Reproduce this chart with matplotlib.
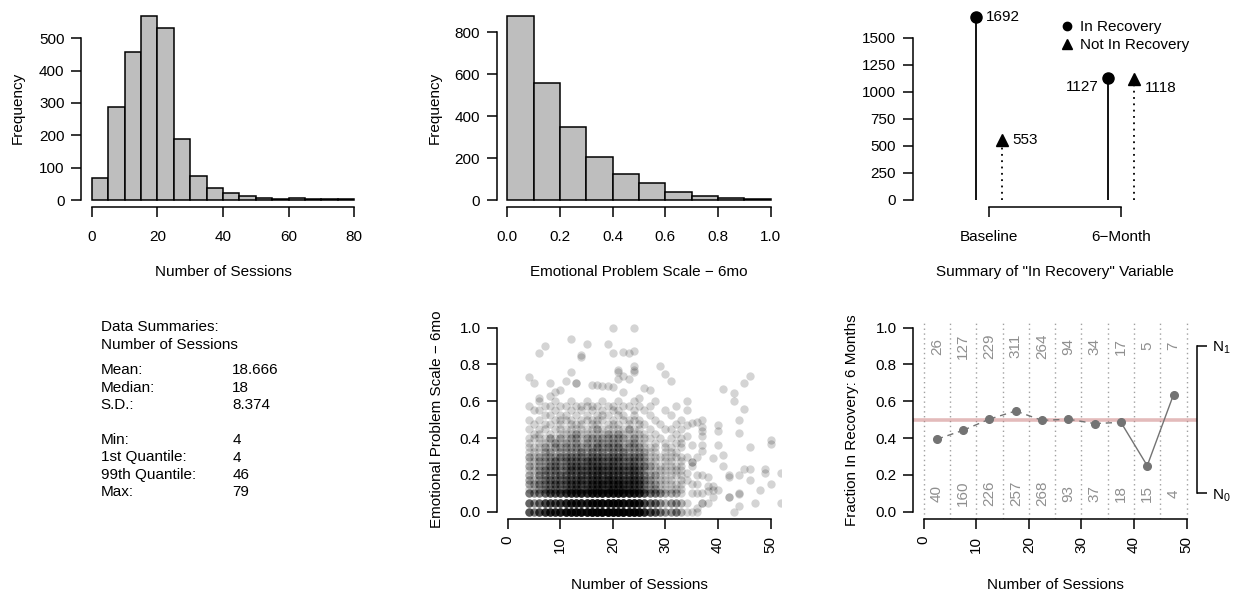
import matplotlib
matplotlib.use("Agg")
import matplotlib.pyplot as plt
from matplotlib.lines import Line2D

plt.rcParams['font.family'] = ['Liberation Sans', 'DejaVu Sans']
plt.rcParams['mathtext.fontset'] = 'custom'
plt.rcParams['mathtext.rm'] = 'Liberation Sans'
plt.rcParams['mathtext.it'] = 'Liberation Sans:italic'

# ---------------- data ----------------
sess_edges = list(range(0, 85, 5))
sess_counts = [67, 289, 457, 570, 533, 189, 73, 36, 22, 12, 6, 4, 6, 2, 2, 2]

emo_edges = [0.0, 0.1, 0.2, 0.3, 0.4, 0.5, 0.6, 0.7, 0.8, 0.9, 1.0]
emo_counts = [879, 556, 347, 207, 122, 81, 37, 21, 11, 5]

rec_groups = ['Baseline', '6\u2212Month']
rec_in = [1692, 1127]
rec_not = [553, 1118]

summary_title = ['Data Summaries:', 'Number of Sessions']
summary_labels = ['Mean:', 'Median:', 'S.D.:', '', 'Min:', '1st Quantile:', '99th Quantile:', 'Max:']
summary_values = ['18.666', '18', '8.374', '', '4', '4', '46', '79']

# scatter: number of points per (sessions, emotional score) cell, base-36 digits,
# columns are sessions 4..33 (grouped 4-5 | 6-10 | 11-15 | 16-20 | 21-25 | 26-30 | 31-33)
core_x = list(range(4, 34))
core_y = [0.600, 0.575, 0.550, 0.525, 0.500, 0.475, 0.450, 0.425, 0.400, 0.375, 0.350, 0.325,
          0.300, 0.275, 0.250, 0.225, 0.200, 0.175, 0.150, 0.125, 0.100, 0.050, 0.000]
core_counts = [
    "00 | 10010 | 01001 | 00100 | 10010 | 00100 | 000",
    "10 | 01101 | 10111 | 11011 | 01101 | 01000 | 010",
    "01 | 10010 | 01010 | 10101 | 10010 | 10001 | 000",
    "00 | 01101 | 10101 | 01110 | 11010 | 01000 | 100",
    "10 | 10011 | 11011 | 11101 | 01111 | 00100 | 001",
    "01 | 01101 | 01110 | 11011 | 10101 | 10010 | 010",
    "10 | 11011 | 11111 | 12111 | 11211 | 01001 | 101",
    "01 | 10101 | 11211 | 11121 | 21111 | 10100 | 010",
    "11 | 11212 | 12212 | 22222 | 22121 | 11010 | 101",
    "10 | 11121 | 21212 | 12222 | 21221 | 10101 | 011",
    "11 | 12122 | 22222 | 23232 | 32222 | 11101 | 101",
    "11 | 12212 | 22232 | 32323 | 23222 | 21101 | 110",
    "21 | 22223 | 33333 | 34343 | 43333 | 21111 | 111",
    "11 | 22232 | 33334 | 43434 | 33332 | 21101 | 101",
    "21 | 22333 | 34444 | 45454 | 44443 | 32111 | 111",
    "11 | 23232 | 34344 | 44544 | 44443 | 21111 | 111",
    "21 | 33334 | 44455 | 56565 | 55554 | 32211 | 111",
    "21 | 23333 | 44454 | 55565 | 55554 | 32111 | 101",
    "22 | 33344 | 45555 | 66766 | 76655 | 32211 | 111",
    "11 | 23333 | 44545 | 56566 | 56554 | 32211 | 111",
    "43 | 45667 | 899a9 | bbccb | cbba9 | 64432 | 221",
    "53 | 57778 | abbbb | ddeee | edddb | 75532 | 332",
    "64 | 79aab | eefff | iiiji | iihhf | a7643 | 342",
]
sparse_x = [20, 24, 12, 15, 7, 19, 6, 20, 22, 23, 24, 14, 14, 4, 5, 8, 11, 12, 13, 13,
            16, 17, 18, 19, 20, 21, 22, 23, 21, 21, 24, 24, 24, 29, 30, 31, 26, 27, 6, 9,
            8, 10, 22, 25,
            34, 34, 34, 34, 34, 34, 34, 34, 34,
            35, 35, 35, 35, 35, 35, 35, 35,
            36, 36, 36, 36, 36, 36, 36,
            37, 37, 37, 37, 37, 37, 37, 37, 37, 37,
            38, 38, 38, 38, 39, 39, 39, 39, 40, 40, 40, 40,
            41, 41, 41, 42, 42, 42, 42, 43, 43, 43,
            44, 44, 44, 44, 44, 44, 45, 45, 45, 46, 46, 46, 46,
            47, 48, 49, 49, 50, 50, 50, 52, 52]
sparse_y = [1.0, 1.0, 0.94, 0.91, 0.9, 0.91, 0.86, 0.86, 0.87, 0.86, 0.875, 0.85, 0.84, 0.73, 0.70, 0.70, 0.71, 0.76, 0.70, 0.70,
            0.69, 0.69, 0.685, 0.685, 0.68, 0.72, 0.74, 0.72, 0.77, 0.76, 0.76, 0.77, 0.79, 0.79, 0.75, 0.71, 0.67, 0.66, 0.62, 0.65,
            0.63, 0.66, 0.65, 0.62,
            0.60, 0.55, 0.47, 0.41, 0.30, 0.21, 0.17, 0.05, 0.00,
            0.48, 0.36, 0.27, 0.25, 0.27, 0.15, 0.10, 0.00,
            0.49, 0.30, 0.20, 0.15, 0.02, 0.00, 0.10,
            0.50, 0.46, 0.44, 0.41, 0.364, 0.33, 0.20, 0.10, 0.05, 0.05,
            0.19, 0.14, 0.11, 0.05, 0.29, 0.14, 0.12, 0.08, 0.47, 0.44, 0.36, 0.12,
            0.665, 0.31, 0.25, 0.20, 0.19, 0.08, 0.08, 0.643, 0.60, 0.00,
            0.50, 0.43, 0.20, 0.10, 0.096, 0.03, 0.70, 0.56, 0.23, 0.74, 0.35, 0.23, 0.17,
            0.05, 0.12, 0.21, 0.23, 0.39, 0.37, 0.15, 0.21, 0.05]

frac_edges = list(range(0, 55, 5))
n1 = [26, 127, 229, 311, 264, 94, 34, 17, 5, 7]
n0 = [40, 160, 226, 257, 268, 93, 37, 18, 15, 4]

# ---------------- layout helpers ----------------
W, H = 1243, 592
fig = plt.figure(figsize=(W / 100, H / 100), dpi=100)
FS = 11
LW = 1.1


def axes_px(l, t, r, b):
    return fig.add_axes([l / W, 1 - b / H, (r - l) / W, (b - t) / H])


def style(ax, xb, yb, xpad=9, ypad=5):
    for s in ['top', 'right']:
        ax.spines[s].set_visible(False)
    for s in ['left', 'bottom']:
        ax.spines[s].set_linewidth(LW)
    ax.spines['left'].set_bounds(*yb)
    ax.spines['bottom'].set_bounds(*xb)
    ax.tick_params(axis='both', direction='out', length=7, width=LW, labelsize=FS, color='k')
    ax.tick_params(axis='x', pad=xpad)
    ax.tick_params(axis='y', pad=ypad)


def label_px(ax, box, xlabel=None, xl_y=None, ylabel=None, yl_x=None):
    l, t, r, b = box
    if xlabel is not None:
        ax.set_xlabel(xlabel, fontsize=FS)
        ax.xaxis.set_label_coords(0.5, (b - xl_y) / (b - t))
        ax.xaxis.label.set_va('center')
    if ylabel is not None:
        ax.set_ylabel(ylabel, fontsize=FS)
        ax.yaxis.set_label_coords((yl_x - l) / (r - l), 0.5)
        ax.yaxis.label.set_va('center')


# ---------------- panel 1: histogram sessions ----------------
box1 = (81.2, 8.3, 364.8, 207.4)
ax1 = axes_px(*box1)
ax1.bar(sess_edges[:-1], sess_counts, width=5, align='edge', color='#bebebe', edgecolor='black', linewidth=LW)
ax1.set_xlim(-3.2, 83.2)
ax1.set_ylim(-0.04 * max(sess_counts), 1.04 * max(sess_counts))
ax1.set_xticks(range(0, 81, 20))
ax1.set_yticks(range(0, 501, 100))
style(ax1, (0, 80), (0, 500))
label_px(ax1, box1, 'Number of Sessions', 272, 'Frequency', 18)

# ---------------- panel 2: histogram emotional ----------------
box2 = (496.8, 8.4, 781.2, 207.4)
ax2 = axes_px(*box2)
ax2.bar(emo_edges[:-1], emo_counts, width=0.1, align='edge', color='#bebebe', edgecolor='black', linewidth=LW)
ax2.set_xlim(-0.04, 1.04)
ax2.set_ylim(-0.04 * max(emo_counts), 1.04 * max(emo_counts))
ax2.set_xticks([0, 0.2, 0.4, 0.6, 0.8, 1.0])
ax2.set_xticklabels(['%.1f' % v for v in [0, 0.2, 0.4, 0.6, 0.8, 1.0]])
ax2.set_yticks(range(0, 801, 200))
style(ax2, (0, 1), (0, 800))
label_px(ax2, box2, 'Emotional Problem Scale \u2212 6mo', 272, 'Frequency', 435)

# ---------------- panel 3: recovery lollipop ----------------
box3 = (912.7, 9.6, 1197.6, 207.3)
ax3 = axes_px(*box3)
gx = [i + 1 for i in range(len(rec_groups))]
x_in = [g - 0.1 for g in gx]
x_not = [g + 0.1 for g in gx]
ax3.vlines(x_in, 0, rec_in, colors='black', linewidth=1.3)
ax3.vlines(x_not, 0, rec_not, colors='black', linewidth=1.3, linestyles=(0, (1, 2.5)))
ax3.plot(x_in, rec_in, 'o', color='black', ms=8)
ax3.plot(x_not, rec_not, '^', color='black', ms=9)
ymax3 = max(rec_in + rec_not)
ax3.set_xlim(0.42, 2.58)
ax3.set_ylim(-0.04 * ymax3, 1.04 * ymax3)
ax3.set_yticks(range(0, 1501, 250))
ax3.set_xticks(gx)
ax3.set_xticklabels(rec_groups)
style(ax3, (1, 2), (0, 1500))
ax3.annotate(str(rec_in[0]), (x_in[0], rec_in[0]), xytext=(7, 0), textcoords='offset points',
             ha='left', va='center', fontsize=FS)
ax3.annotate(str(rec_not[0]), (x_not[0], rec_not[0]), xytext=(7, 0), textcoords='offset points',
             ha='left', va='center', fontsize=FS)
ax3.annotate(str(rec_in[1]), (x_in[1], rec_in[1]), xytext=(-7, -6.5), textcoords='offset points',
             ha='right', va='center', fontsize=FS)
ax3.annotate(str(rec_not[1]), (x_not[1], rec_not[1]), xytext=(7.5, -6.5), textcoords='offset points',
             ha='left', va='center', fontsize=FS)
handles = [Line2D([], [], marker='o', ls='none', color='black', ms=6),
           Line2D([], [], marker='^', ls='none', color='black', ms=6.5)]
fig.legend(handles, ['In Recovery', 'Not In Recovery'], loc='upper left',
           bbox_to_anchor=(1060.7 / W, 1 - 20.5 / H), frameon=False, fontsize=FS,
           handlelength=0.8, handletextpad=0.48, labelspacing=0.25, borderpad=0, borderaxespad=0)
label_px(ax3, box3, 'Summary of "In Recovery" Variable', 271.7)

# ---------------- panel 4: text summary ----------------
ty = 326.7
for t in summary_title:
    fig.text(100.7 / W, 1 - ty / H, t, ha='left', va='center', fontsize=FS)
    ty += 18.3
ty = 370
for lab, val in zip(summary_labels, summary_values):
    if lab:
        fig.text(100.7 / W, 1 - ty / H, lab, ha='left', va='center', fontsize=FS)
        fig.text(232.3 / W, 1 - ty / H, val, ha='left', va='center', fontsize=FS)
    ty += 17.5

# ---------------- panel 5: scatter ----------------
sx, sy = [], []
for yv, row in zip(core_y, core_counts):
    cells = row.replace('|', '').replace(' ', '')
    for xv, ch in zip(core_x, cells):
        k = int(ch, 36)
        sx += [xv] * k
        sy += [yv] * k
sx += sparse_x
sy += sparse_y
box5 = (497.2, 320.3, 781.2, 519.1)
ax5 = axes_px(*box5)
ax5.scatter(sx, sy, s=36, c='black', alpha=0.17, linewidths=0)
ax5.set_xlim(-2, 52)
ax5.set_ylim(-0.04, 1.04)
ax5.set_xticks(range(0, 51, 10))
ax5.set_yticks([0, 0.2, 0.4, 0.6, 0.8, 1.0])
ax5.set_yticklabels(['%.1f' % v for v in [0, 0.2, 0.4, 0.6, 0.8, 1.0]])
style(ax5, (0, 50), (0, 1), xpad=5)
for lab in ax5.get_xticklabels():
    lab.set_rotation(90)
label_px(ax5, box5, 'Number of Sessions', 585, 'Emotional Problem Scale \u2212 6mo', 436.7)

# ---------------- panel 6: fraction in recovery ----------------
box6 = (913.2, 320.3, 1197.2, 519.1)
ax6 = axes_px(*box6)
mids = [(a + b) / 2 for a, b in zip(frac_edges[:-1], frac_edges[1:])]
frac = [a / (a + b) for a, b in zip(n1, n0)]
ntot = [a + b for a, b in zip(n1, n0)]
gray_pt = '#737373'
for e in frac_edges:
    ax6.axvline(e, color='#a0a0a0', lw=1, ls=(0, (1, 2.5)), zorder=0)
ax6.axhline(0.5, color='#c97878', alpha=0.5, lw=2.6, zorder=1)
for i in range(len(mids) - 1):
    small = ntot[i] < 30 or ntot[i + 1] < 30
    ax6.plot(mids[i:i + 2], frac[i:i + 2], color=gray_pt, lw=1,
             ls='-' if small else (0, (4.5, 3.5)), zorder=2)
ax6.plot(mids, frac, 'o', color=gray_pt, ms=5.5, zorder=3)
for m, a, b in zip(mids, n1, n0):
    ax6.text(m, 0.9, str(a), rotation=90, ha='center', va='center', color='#8f8f8f', fontsize=FS)
    ax6.text(m, 0.1, str(b), rotation=90, ha='center', va='center', color='#8f8f8f', fontsize=FS)
ax6.set_xlim(-2, 52)
ax6.set_ylim(-0.04, 1.04)
ax6.set_xticks(range(0, 51, 10))
ax6.set_yticks([0, 0.2, 0.4, 0.6, 0.8, 1.0])
ax6.set_yticklabels(['%.1f' % v for v in [0, 0.2, 0.4, 0.6, 0.8, 1.0]])
style(ax6, (0, 50), (0, 1), xpad=5)
for lab in ax6.get_xticklabels():
    lab.set_rotation(90)
label_px(ax6, box6, 'Number of Sessions', 585, 'Fraction In Recovery: 6 Months', 851.7)
# right bracket axis
ax6r = ax6.twinx()
ax6r.set_ylim(-0.04, 1.04)
for s in ['top', 'left', 'bottom']:
    ax6r.spines[s].set_visible(False)
ax6r.spines['right'].set_linewidth(LW)
ax6r.spines['right'].set_bounds(0.1, 0.9)
ax6r.set_yticks([0.1, 0.9])
ax6r.set_yticklabels(['N$_0$', 'N$_1$'])
ax6r.tick_params(axis='y', direction='out', length=7, width=LW, labelsize=FS, pad=4)

fig.savefig('out.png', dpi=100)
